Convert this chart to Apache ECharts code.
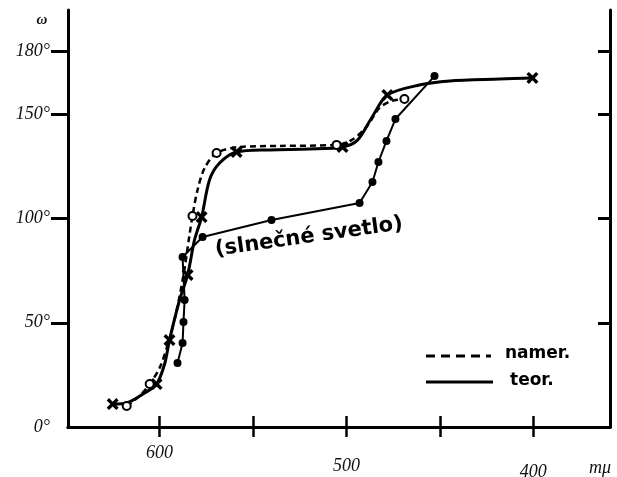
<!DOCTYPE html>
<html>
<head>
<meta charset="utf-8">
<script src="https://cdn.jsdelivr.net/npm/echarts@6/dist/echarts.min.js"></script>
<style>html,body{margin:0;padding:0;background:#fff}#c{width:617px;height:477px}</style>
</head>
<body>
<div id="c"></div>
<script>
// x: wavelength (mμ), y: angle ω (degrees)
const xTicks = [600, 550, 500, 450, 400];
const xTickLabels = [600, 500, 400];
const yTickLabels = [0, 50, 100, 150, 180];
const yTicks = [50, 100, 150, 180];

// teor. (theoretical) curve
const teorLine = [[625.1,11.0],[617.6,11.5],[608.0,16.3],[601.6,20.6],[597.3,30.2],[594.7,41.7],[589.3,60.9],[585.0,72.9],[581.3,89.7],[577.5,100.7],[573.3,118.5],[567.9,126.6],[558.8,131.9],[541.2,132.9],[519.8,133.3],[502.1,134.3],[494.1,137.6],[486.6,148.2],[478.1,159.2],[461.0,164.0],[444.9,166.0],[418.2,166.9],[400.5,167.4]];
const teorMarks = [[625.1,11.0],[601.6,20.6],[594.7,41.7],[585.0,72.9],[577.5,100.7],[558.8,131.9],[502.1,134.3],[478.1,159.2],[400.5,167.4]];

// namer. (measured) curve
const namerLine = [[617.6,10.1],[610.7,14.9],[605.3,20.6],[600.0,28.3],[595.7,39.3],[591.4,53.7],[587.2,72.9],[584.0,92.1],[582.4,101.2],[579.7,113.7],[575.9,124.2],[569.5,131.4],[557.2,134.3],[535.8,134.8],[505.3,135.3],[497.3,137.6],[489.3,143.9],[482.4,153.0],[475.9,156.4],[469.0,157.3]];
const namerMarks = [[617.6,10.1],[605.3,20.6],[582.4,101.2],[569.5,131.4],[505.3,135.3],[469.0,157.3]];

// slnečné svetlo (sunlight) curve
const sunLine = [[590.4,30.7],[587.7,40.3],[587.2,50.4],[586.6,60.9],[587.7,81.5],[577.0,91.1],[540.1,99.3],[493.0,107.4],[486.1,117.5],[482.9,127.1],[478.6,137.2],[473.8,147.7],[452.9,168.3]];

const chart = echarts.init(document.getElementById('c'), null, {renderer: 'canvas'});
const serifLbl = {fontFamily: 'Liberation Serif', fontStyle: 'italic', fontSize: 18, color: '#111'};
const crossPath = 'path://M0,2L2,0L5,3L8,0L10,2L7,5L10,8L8,10L5,7L2,10L0,8L3,5Z';

chart.setOption({
  animation: false,
  backgroundColor: '#fff',
  grid: {left: 68, right: 7, top: 10, bottom: 50, containLabel: false, outerBoundsMode: 'none'},
  xAxis: [
    {type: 'value', position: 'bottom', min: 359, max: 649, inverse: true,
     axisLine: {show: true, lineStyle: {color: '#000', width: 3}},
     axisTick: {show: true, inside: true, length: 11, customValues: xTicks, lineStyle: {color: '#000', width: 2.5}},
     axisLabel: {show: true, customValues: xTickLabels, margin: 17,
       formatter: function (v) { return v === 600 ? '{a|600}' : (v === 500 ? '{b|500}' : '{c|400}'); },
       rich: {
         a: Object.assign({}, serifLbl, {padding: [0, 0, 0, 0]}),
         b: Object.assign({}, serifLbl, {padding: [13, 0, 0, 0]}),
         c: Object.assign({}, serifLbl, {padding: [19, 0, 0, 0]})
       }},
     splitLine: {show: false}},
    {type: 'value', position: 'top', min: 359, max: 649, inverse: true,
     axisLine: {show: true, lineStyle: {color: '#000', width: 3}},
     axisTick: {show: true, inside: true, length: 10, customValues: xTicks, lineStyle: {color: '#000', width: 2.5}},
     axisLabel: {show: false}, splitLine: {show: false}}
  ],
  yAxis: [
    {type: 'value', position: 'left', min: 0, max: 200,
     axisLine: {show: true, lineStyle: {color: '#000', width: 3}},
     axisTick: {show: true, inside: false, length: 17, customValues: yTicks, lineStyle: {color: '#000', width: 3}},
     axisLabel: {show: true, customValues: yTickLabels, margin: 18, formatter: function (v) { return v + '°'; }, ...serifLbl},
     splitLine: {show: false}},
    {type: 'value', position: 'right', min: 0, max: 200,
     axisLine: {show: true, lineStyle: {color: '#000', width: 3}},
     axisTick: {show: true, inside: true, length: 12, customValues: yTicks, lineStyle: {color: '#000', width: 3}},
     axisLabel: {show: false}, splitLine: {show: false}}
  ],
  series: [
    {name: 'slnečné svetlo', type: 'line', data: sunLine, smooth: false,
     symbol: 'circle', symbolSize: 8, showSymbol: true,
     itemStyle: {color: '#000'}, lineStyle: {color: '#000', width: 2}},
    {name: 'namer.', type: 'line', data: namerLine, smooth: 0.3, showSymbol: false, symbol: 'none',
     lineStyle: {color: '#000', width: 2.5, type: [6, 4]}},
    {name: 'teor.', type: 'line', data: teorLine, smooth: 0.3, showSymbol: false, symbol: 'none',
     lineStyle: {color: '#000', width: 3}},
    {name: 'teor. body', type: 'scatter', data: teorMarks, symbol: crossPath, symbolSize: 12,
     itemStyle: {color: '#000', opacity: 1}, z: 5},
    {name: 'namer. body', type: 'scatter', data: namerMarks, symbol: 'circle', symbolSize: 8,
     itemStyle: {color: '#fff', borderColor: '#000', borderWidth: 2, opacity: 1}, z: 6}
  ],
  graphic: [
    {type: 'text', x: 42, y: 20, style: {text: 'ω', fontFamily: 'Liberation Serif', fontStyle: 'italic', fontWeight: 'bold', fontSize: 15, fill: '#111', align: 'center', verticalAlign: 'middle'}},
    {type: 'text', x: 600, y: 468, style: {text: 'mμ', fontFamily: 'Liberation Serif', fontStyle: 'italic', fontSize: 18, fill: '#111', align: 'center', verticalAlign: 'middle'}},
    {type: 'text', x: 309, y: 237, rotation: 0.14, style: {text: '(slnečné svetlo)', fontFamily: 'DejaVu Sans', fontWeight: 'bold', fontSize: 21, fill: '#000', align: 'center', verticalAlign: 'middle'}},
    {type: 'line', shape: {x1: 426, y1: 356, x2: 491, y2: 356}, style: {stroke: '#000', lineWidth: 3, lineDash: [9, 6]}},
    {type: 'text', x: 505, y: 354, style: {text: 'namer.', fontFamily: 'DejaVu Sans', fontWeight: 'bold', fontSize: 17, fill: '#000', align: 'left', verticalAlign: 'middle'}},
    {type: 'line', shape: {x1: 426, y1: 382, x2: 493, y2: 382}, style: {stroke: '#000', lineWidth: 3}},
    {type: 'text', x: 510, y: 381, style: {text: 'teor.', fontFamily: 'DejaVu Sans', fontWeight: 'bold', fontSize: 17, fill: '#000', align: 'left', verticalAlign: 'middle'}}
  ]
});
</script>
</body>
</html>
